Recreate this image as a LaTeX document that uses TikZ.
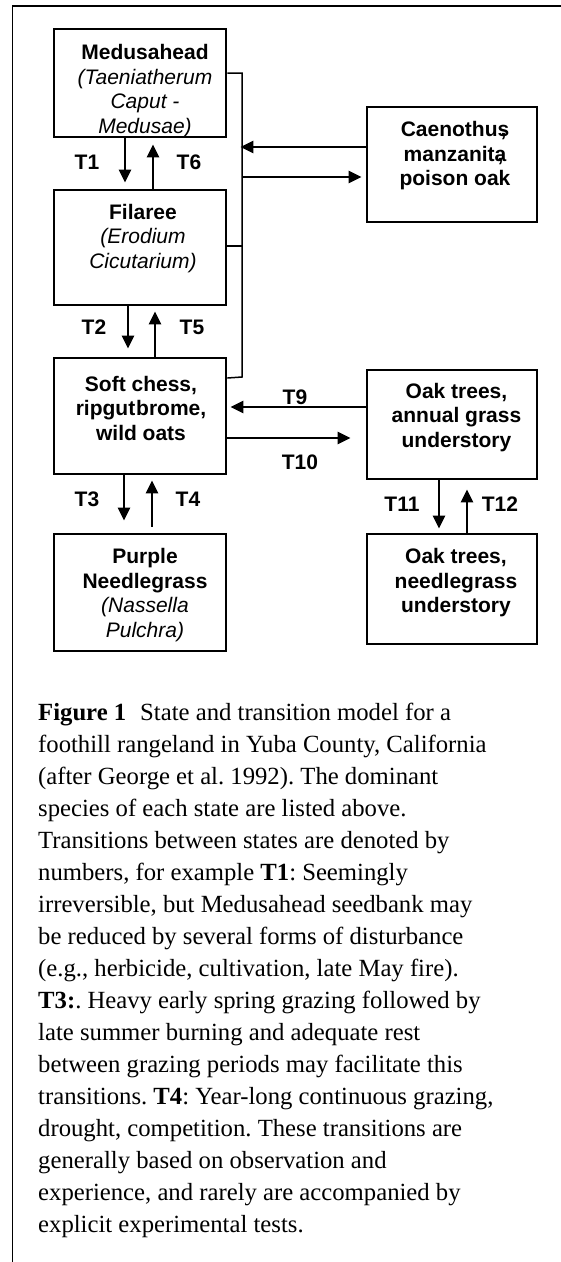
\documentclass[tikz,border=0pt]{standalone}
\usepackage{fontspec}
\setmainfont{Liberation Serif}
\newfontfamily\arialfam{Liberation Sans}
\usetikzlibrary{arrows.meta}
\frenchspacing
\begin{document}
\begin{tikzpicture}[x={(1pt,0)},y={(0,-1pt)},
  statebox/.style={draw=black,line width=2.8pt,inner sep=0pt},
  boxtext/.style={font=\arialfam\fontsize{21}{24.5}\selectfont,align=center,inner sep=0pt},
  tlabel/.style={font=\arialfam\bfseries\fontsize{21}{24.5}\selectfont,inner sep=0pt},
  arr/.style={line width=2.4pt,-{Triangle[length=13pt,width=12pt]}},
  brk/.style={line width=1.5pt},
  frame/.style={line width=1.8pt}]
\useasboundingbox (0,0) rectangle (561,1262);
% outer frame (top and left sides)
\draw[frame] (12.5,1262) -- (12.5,6) -- (561,6);
% state boxes
\node[statebox,minimum width=172pt,minimum height=108pt] (med) at (140,83) {};
\node[statebox,minimum width=172pt,minimum height=115pt] (fil) at (140,247.5) {};
\node[statebox,minimum width=172pt,minimum height=116pt] (soft) at (140,416) {};
\node[statebox,minimum width=172pt,minimum height=117pt] (purp) at (140,592.5) {};
\node[statebox,minimum width=170pt,minimum height=115pt] (cae) at (452,164.5) {};
\node[statebox,minimum width=170pt,minimum height=109pt] (oaka) at (452,424.5) {};
\node[statebox,minimum width=170pt,minimum height=110pt] (oakn) at (452,589) {};
% box texts
\node[boxtext] (medt) at (145,91) {\textbf{Medusahead}\\\textit{(Taeniatherum}\\\textit{Caput -}\\\textit{Medusae)}};
\node[boxtext] (filt) at (143,238.5) {\textbf{Filaree}\\\textit{(Erodium}\\\textit{Cicutarium)}};
\node[boxtext] (softt) at (141,408) {\textbf{Soft chess,}\\\textbf{ripgut\kern1pt brome,}\\\textbf{wild oats}};
\node[boxtext] (purpt) at (145,595) {\textbf{Purple}\\\textbf{Needlegrass}\\\textit{(Nassella}\\\textit{Pulchra)}};
\node[boxtext] (caet) at (455,156) {\textbf{Caenothus\llap{,\kern0.14em}}\\\textbf{manzanita\llap{,\kern0.14em}}\\\textbf{poison oak}};
\node[boxtext] (oakat) at (456.5,417.5) {\textbf{Oak trees,}\\\textbf{annual grass}\\\textbf{understory}};
\node[boxtext] (oaknt) at (456,583) {\textbf{Oak trees,}\\\textbf{needlegrass}\\\textbf{understory}};
% bracket joining the three upper annual states
\coordinate (bk) at (242,177);
\draw[brk] (med.east |- 0,73) -- (242,73) -- (242,377) -- (soft.east |- 0,378);
\draw[brk] (fil.east |- 0,246) -- (242,246);
% transitions
\draw[arr,shorten >=6pt] (125,0 |- med.south) -- (125,0 |- fil.north);
\draw[arr,shorten >=6pt] (153,0 |- fil.north) -- (153,0 |- med.south);
\draw[arr,shorten >=8pt] (128,0 |- fil.south) -- (128,0 |- soft.north);
\draw[arr,shorten >=5pt] (155,0 |- soft.north) -- (155,0 |- fil.south);
\draw[arr,shorten >=12pt] (124,0 |- soft.south) -- (124,0 |- purp.north);
\draw[arr,shorten <=6pt,shorten >=5pt] (152,0 |- purp.north) -- (152,0 |- soft.south);
\draw[arr,shorten >=13pt] (cae.west |- 0,147) -- (med.east |- 0,147);
\draw[arr,shorten >=4pt] (bk) -- (cae.west |- bk);
\draw[arr,shorten >=3pt] (oaka.west |- 0,407) -- (soft.east |- 0,407);
\draw[arr,shorten >=15pt] (soft.east |- 0,438) -- (oaka.west |- 0,438);
\draw[arr,shorten >=4pt] (439,0 |- oaka.south) -- (439,0 |- oakn.north);
\draw[arr,shorten >=9pt] (467,0 |- oakn.north) -- (467,0 |- oaka.south);
% transition labels
\node[tlabel] (t1) at (87,162) {T1};
\node[tlabel] (t6) at (189,162) {T6};
\node[tlabel] (t2) at (94,327) {T2};
\node[tlabel] (t5) at (192,327) {T5};
\node[tlabel] (t3) at (87,499) {T3};
\node[tlabel] (t4) at (188,499) {T4};
\node[tlabel] (t9) at (295,397) {T9};
\node[tlabel] (t10) at (300,462) {T10};
\node[tlabel] (t11) at (402,504) {T11};
\node[tlabel] (t12) at (500,504) {T12};
% caption (base anchor of a multi-line node = last baseline)
\node[anchor=base west,align=left,inner sep=0pt,font=\fontsize{24.7}{32}\selectfont] (cap) at (38,1232) {%
\textbf{Figure 1}\hspace{14pt}State and transition model for a\\
foothill rangeland in Yuba County, California\\
(after George et al. 1992). The dominant\\
species of each state are listed above.\\
Transitions between states are denoted by\\
numbers, for example \textbf{T1}: Seemingly\\
irreversible, but Medusahead seedbank may\\
be reduced by several forms of disturbance\\
(e.g., herbicide, cultivation, late May fire).\\
\textbf{T3:}. Heavy early spring grazing followed by\\
late summer burning and adequate rest\\
between grazing periods may facilitate this\\
transitions. \textbf{T4}: Year-long continuous grazing,\\
drought, competition. These transitions are\\
generally based on observation and\\
experience, and rarely are accompanied by\\
explicit experimental tests.};
\end{tikzpicture}
\end{document}
